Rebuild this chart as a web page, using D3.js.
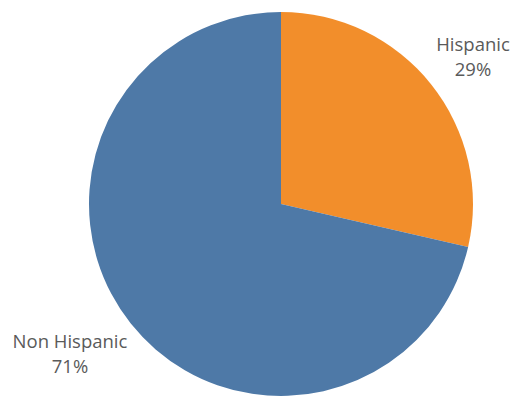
<!DOCTYPE html>
<html>
<head>
<meta charset="utf-8">
<script src="https://cdn.jsdelivr.net/npm/d3@7"></script>
<style>
  body { margin: 0; background: #fff; }
  text { font-family: "Open Sans", sans-serif; fill: #5a5a5a; }
</style>
</head>
<body>
<div class="chart"></div>
<script>
var categories = ["Hispanic", "Non Hispanic"],
    values = [28.6, 71.4],
    pctLabels = ["29%", "71%"],
    colors = ["#f28e2b", "#4e79a7"];

var width = 512,
    height = 399,
    cx = 281,
    cy = 204,
    radius = 192;

var svg = d3.select(".chart").append("svg")
    .attr("width", width)
    .attr("height", height);

var pie = d3.pie().sort(null).value(function (d) { return d; });
var arc = d3.arc().innerRadius(0).outerRadius(radius);

var g = svg.append("g")
    .attr("transform", "translate(" + cx + "," + cy + ")");

g.selectAll("path")
    .data(pie(values))
    .enter().append("path")
    .attr("d", arc)
    .attr("fill", function (d, i) { return colors[i]; });

// labels sit outside the pie, at the corners
var labelPos = [[473, 51], [70, 348]];

var labels = svg.selectAll("g.label")
    .data(categories)
    .enter().append("g")
    .attr("class", "label")
    .attr("transform", function (d, i) { return "translate(" + labelPos[i][0] + "," + labelPos[i][1] + ")"; });

labels.append("text")
    .attr("text-anchor", "middle")
    .attr("font-size", 18.5)
    .text(function (d) { return d; });

labels.append("text")
    .attr("text-anchor", "middle")
    .attr("font-size", 18.5)
    .attr("y", 25)
    .text(function (d, i) { return pctLabels[i]; });
</script>
</body>
</html>
